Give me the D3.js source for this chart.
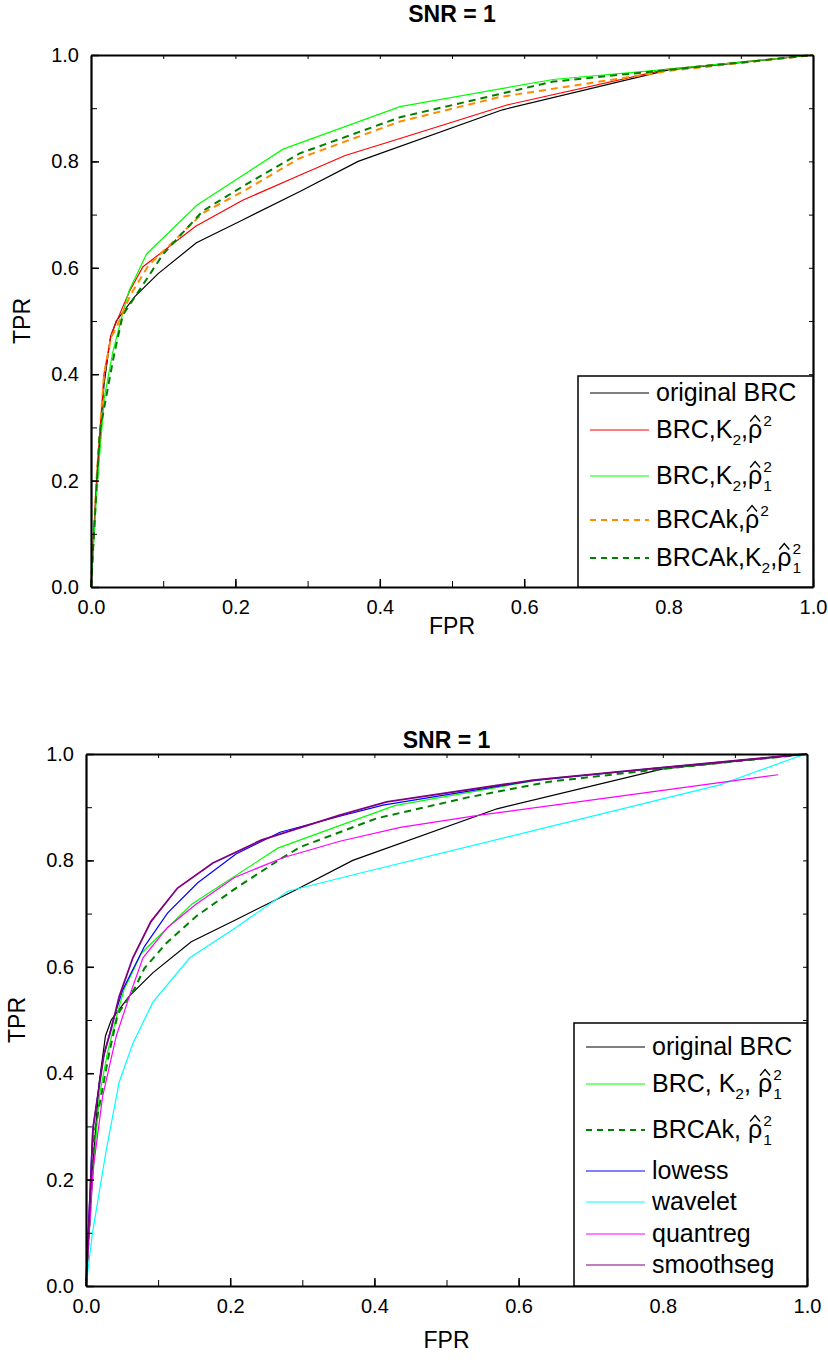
<!DOCTYPE html>
<html>
<head>
<meta charset="utf-8">
<script src="https://cdn.jsdelivr.net/npm/d3@7"></script>
<style>
  body { margin: 0; background: #fff; }
  svg { display: block; font-family: "Liberation Sans", Arial, sans-serif; }
</style>
</head>
<body>
<script>
// ---- data ----
const ticks = [0, 0.2, 0.4, 0.6, 0.8, 1.0];
const tickLabels = ["0.0", "0.2", "0.4", "0.6", "0.8", "1.0"];

// top panel
const origFpr = [0, 0.008, 0.018, 0.027, 0.035, 0.06, 0.093, 0.146, 0.21, 0.29, 0.37, 0.57, 0.8, 1];
const origTpr = [0, 0.2, 0.38, 0.47, 0.5, 0.545, 0.589, 0.647, 0.69, 0.744, 0.8, 0.897, 0.972, 1];
const redFpr = [0, 0.008, 0.018, 0.028, 0.032, 0.053, 0.072, 0.145, 0.21, 0.289, 0.352, 0.428, 0.576, 0.797, 1];
const redTpr = [0, 0.21, 0.4, 0.474, 0.488, 0.555, 0.602, 0.678, 0.727, 0.774, 0.811, 0.843, 0.906, 0.973, 1];
const greenFpr = [0, 0.008, 0.0185, 0.03, 0.044, 0.053, 0.077, 0.147, 0.266, 0.428, 0.64, 0.797, 1];
const greenTpr = [0, 0.18, 0.357, 0.44, 0.515, 0.558, 0.626, 0.718, 0.823, 0.903, 0.954, 0.973, 1];
const orangeFpr = [0, 0.008, 0.018, 0.028, 0.036, 0.055, 0.08, 0.155, 0.215, 0.289, 0.428, 0.566, 0.8, 1];
const orangeTpr = [0, 0.21, 0.4, 0.47, 0.49, 0.55, 0.605, 0.703, 0.747, 0.806, 0.875, 0.921, 0.97, 1];
const dgFpr = [0, 0.012, 0.021, 0.032, 0.044, 0.067, 0.1, 0.155, 0.215, 0.289, 0.428, 0.64, 0.8, 1];
const dgTpr = [0, 0.29, 0.357, 0.437, 0.511, 0.558, 0.626, 0.707, 0.757, 0.815, 0.883, 0.95, 0.972, 1];

// bottom panel
const dg2Fpr = [0, 0.012, 0.021, 0.032, 0.044, 0.067, 0.081, 0.111, 0.153, 0.208, 0.269, 0.297, 0.403, 0.528, 0.643, 0.8, 1];
const dg2Tpr = [0, 0.29, 0.357, 0.437, 0.511, 0.558, 0.597, 0.644, 0.695, 0.748, 0.802, 0.825, 0.879, 0.918, 0.948, 0.972, 1];
const lowessFpr = [0, 0.009, 0.023, 0.037, 0.051, 0.081, 0.113, 0.155, 0.208, 0.269, 0.352, 0.412, 0.62, 0.787, 1];
const lowessTpr = [0, 0.289, 0.423, 0.497, 0.557, 0.638, 0.701, 0.758, 0.812, 0.853, 0.883, 0.904, 0.95, 0.973, 1];
const waveletFpr = [0, 0.009, 0.028, 0.046, 0.065, 0.093, 0.144, 0.208, 0.28, 0.371, 0.879, 0.93, 0.981, 1];
const waveletTpr = [0, 0.1, 0.255, 0.383, 0.456, 0.534, 0.617, 0.674, 0.742, 0.773, 0.942, 0.967, 0.992, 1];
const quantFpr = [0, 0.01, 0.023, 0.042, 0.06, 0.079, 0.113, 0.153, 0.206, 0.273, 0.352, 0.436, 0.546, 0.889, 0.96];
const quantTpr = [0, 0.22, 0.356, 0.47, 0.544, 0.617, 0.674, 0.718, 0.768, 0.805, 0.836, 0.862, 0.885, 0.948, 0.961];
const smoothFpr = [0, 0.01, 0.025, 0.035, 0.046, 0.065, 0.09, 0.127, 0.176, 0.243, 0.352, 0.417, 0.62, 0.787, 1];
const smoothTpr = [0, 0.3, 0.436, 0.483, 0.544, 0.617, 0.685, 0.748, 0.795, 0.838, 0.885, 0.91, 0.951, 0.973, 1];

const zip = (xs, ys) => xs.map((x, i) => [x, ys[i]]);

// legend labels: strings are plain text, {sub} subscript, {gap} a space, {rho, sub} rho-hat squared
const topSeries = [
  { pts: zip(origFpr, origTpr), color: "#000000", w: 1.2, label: ["original BRC"] },
  { pts: zip(redFpr, redTpr), color: "#ff0000", w: 1.2, label: ["BRC,K", { sub: "2" }, ",", { rho: true }] },
  { pts: zip(greenFpr, greenTpr), color: "#00ff00", w: 1.2, label: ["BRC,K", { sub: "2" }, ",", { rho: true, sub: "1" }] },
  { pts: zip(orangeFpr, orangeTpr), color: "#ff8c00", w: 2, dash: "7,5", label: ["BRCAk,", { rho: true }] },
  { pts: zip(dgFpr, dgTpr), color: "#008000", w: 2, dash: "7,5", label: ["BRCAk,K", { sub: "2" }, ",", { rho: true, sub: "1" }] }
];
const bottomSeries = [
  { pts: zip(origFpr, origTpr), color: "#000000", w: 1.2, label: ["original BRC"] },
  { pts: zip(greenFpr, greenTpr), color: "#00ff00", w: 1.2, label: ["BRC, K", { sub: "2" }, ",", { gap: true }, { rho: true, sub: "1" }] },
  { pts: zip(dg2Fpr, dg2Tpr), color: "#008000", w: 2, dash: "7,5", label: ["BRCAk,", { gap: true }, { rho: true, sub: "1" }] },
  { pts: zip(lowessFpr, lowessTpr), color: "#0000ff", w: 1.2, label: ["lowess"] },
  { pts: zip(waveletFpr, waveletTpr), color: "#00ffff", w: 1.2, label: ["wavelet"] },
  { pts: zip(quantFpr, quantTpr), color: "#ff00ff", w: 1.2, label: ["quantreg"] },
  { pts: zip(smoothFpr, smoothTpr), color: "#800080", w: 1.8, label: ["smoothseg"] }
];

const svg = d3.select("body").append("svg")
  .attr("width", 828)
  .attr("height", 1362);

// measure a string at a font size
function textWidth(txt, size) {
  const t = svg.append("text").attr("font-size", size).text(txt);
  const w = t.node().getComputedTextLength();
  t.remove();
  return w;
}

// one <text> with positioned tspans for sub/superscripts; hat over rho drawn as a small path
function richLabel(g, parts, x, y, fs) {
  const frags = [];
  const hats = [];
  let cx = x;
  const small = fs * 0.62;
  parts.forEach(p => {
    if (typeof p === "string") {
      frags.push({ t: p, x: cx, y: y, s: fs });
      cx += textWidth(p, fs);
    } else if (p.gap) {
      cx += fs * 0.28;
    } else if (p.rho) {
      const w = textWidth("\u03c1", fs);
      frags.push({ t: "\u03c1", x: cx, y: y, s: fs });
      hats.push([[cx + w * 0.15, y - fs * 0.66], [cx + w * 0.5, y - fs * 0.9], [cx + w * 0.85, y - fs * 0.66]]);
      frags.push({ t: "2", x: cx + w + 1, y: y - fs * 0.5, s: small });
      let w1 = 0;
      if (p.sub) {
        frags.push({ t: p.sub, x: cx + w + 1, y: y + fs * 0.28, s: small });
        w1 = textWidth(p.sub, small);
      }
      cx += w + 1 + Math.max(textWidth("2", small), w1);
    } else if (p.sub) {
      frags.push({ t: p.sub, x: cx, y: y + fs * 0.28, s: small });
      cx += textWidth(p.sub, small);
    }
  });
  const t = g.append("text").attr("fill", "#000");
  frags.forEach(f => {
    t.append("tspan").attr("x", f.x).attr("y", f.y).attr("font-size", f.s).text(f.t);
  });
  hats.forEach(h => {
    g.append("path").attr("d", d3.line()(h))
      .attr("fill", "none").attr("stroke", "#000").attr("stroke-width", 1.4);
  });
}

function panel(opt) {
  const g = svg.append("g");
  const x = d3.scaleLinear().domain([0, 1]).range([opt.left, opt.right]);
  const y = d3.scaleLinear().domain([0, 1]).range([opt.bottom, opt.top]);
  const minor = d3.range(0, 1.0001, 0.1);

  // curves
  const line = d3.line().x(d => x(d[0])).y(d => y(d[1]));
  g.selectAll(".curve").data(opt.series).enter()
    .append("path")
    .attr("class", "curve")
    .attr("d", d => line(d.pts))
    .attr("fill", "none")
    .attr("stroke", d => d.color)
    .attr("stroke-width", d => d.w)
    .attr("stroke-dasharray", d => d.dash || null);

  // axes
  const bottomAx = d3.axisBottom(x).tickValues(ticks).tickFormat((d, i) => tickLabels[i]).tickSizeInner(-8).tickSizeOuter(0).tickPadding(13);
  const leftAx = d3.axisLeft(y).tickValues(ticks).tickFormat((d, i) => tickLabels[i]).tickSizeInner(-8).tickSizeOuter(0).tickPadding(12);
  const axB = g.append("g").attr("transform", `translate(0,${opt.bottom})`).call(bottomAx);
  const axL = g.append("g").attr("transform", `translate(${opt.left},0)`).call(leftAx);
  [axB, axL].forEach(a => {
    a.selectAll("text").attr("font-size", 20).attr("fill", "#000").attr("font-family", "Liberation Sans, Arial, sans-serif");
    a.selectAll("line").attr("stroke", "#000").attr("stroke-width", 1.5);
    a.select(".domain").attr("stroke-width", 2.2);
  });
  // minor ticks
  g.append("g").attr("transform", `translate(0,${opt.bottom})`)
    .call(d3.axisBottom(x).tickValues(minor).tickSize(-6).tickFormat(""))
    .call(a => a.select(".domain").remove());
  g.append("g").attr("transform", `translate(${opt.left},0)`)
    .call(d3.axisLeft(y).tickValues(minor).tickSize(-6).tickFormat(""))
    .call(a => a.select(".domain").remove());
  g.append("g").attr("transform", `translate(0,${opt.top})`)
    .call(d3.axisTop(x).tickValues(minor).tickSizeInner(-4).tickSizeOuter(0).tickFormat(""))
    .call(a => a.select(".domain").attr("stroke-width", 2.2));
  g.append("g").attr("transform", `translate(${opt.right},0)`)
    .call(d3.axisRight(y).tickValues(minor).tickSizeInner(-4).tickSizeOuter(0).tickFormat(""))
    .call(a => a.select(".domain").attr("stroke-width", 2.2));

  // titles
  g.append("text").attr("x", (opt.left + opt.right) / 2).attr("y", opt.titleY)
    .attr("text-anchor", "middle").attr("font-size", 23).attr("font-weight", "bold").text("SNR = 1");
  g.append("text").attr("x", (opt.left + opt.right) / 2).attr("y", opt.fprY)
    .attr("text-anchor", "middle").attr("font-size", 23).text("FPR");
  g.append("text").attr("transform", `translate(${opt.tprX},${(opt.top + opt.bottom) / 2}) rotate(-90)`)
    .attr("text-anchor", "middle").attr("font-size", 23).text("TPR");

  // legend
  const lg = g.append("g");
  lg.append("rect").attr("x", opt.legX).attr("y", opt.legTop)
    .attr("width", opt.right - opt.legX).attr("height", opt.bottom - opt.legTop)
    .attr("fill", "#fff").attr("stroke", "#000").attr("stroke-width", 1.5);
  opt.series.forEach((s, i) => {
    const ly = opt.legRows[i];
    lg.append("line").attr("x1", opt.legX + 12).attr("x2", opt.legX + 71)
      .attr("y1", ly).attr("y2", ly)
      .attr("stroke", s.color).attr("stroke-width", s.dash ? 2 : 1.2)
      .attr("stroke-dasharray", s.dash ? "6,5" : null);
    richLabel(lg, s.label, opt.legX + 78, ly + 8, 25);
  });
}

panel({
  left: 91, right: 813, top: 55, bottom: 587,
  titleY: 22, fprY: 634, tprX: 30,
  series: topSeries,
  legX: 578, legTop: 376,
  legRows: [393, 430, 476, 520, 558]
});
panel({
  left: 86, right: 807, top: 754, bottom: 1286,
  titleY: 748, fprY: 1348, tprX: 25,
  series: bottomSeries,
  legX: 574, legTop: 1023,
  legRows: [1047, 1084, 1130, 1171, 1202, 1234, 1265]
});
</script>
</body>
</html>
